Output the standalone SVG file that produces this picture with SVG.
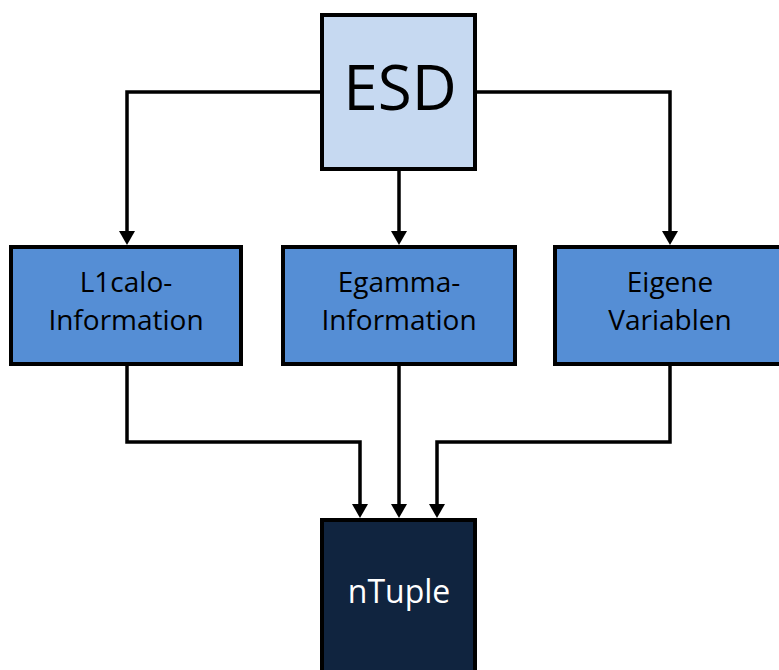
<svg xmlns="http://www.w3.org/2000/svg" width="779" height="670" viewBox="0 0 779 670">
  <defs>
    <style>
      .box { stroke: #000; stroke-width: 4; }
      .esd { fill: #C6D9F1; }
      .mid { fill: #558ED5; }
      .out { fill: #10243F; }
      .lbl { font-family: "Open Sans", "Noto Sans", "DejaVu Sans", sans-serif; font-size: 28px; text-anchor: middle; fill: #000; }
      .conn { fill: none; stroke: #000; stroke-width: 3.5; stroke-linejoin: miter; }
    </style>
    <marker id="arrow" viewBox="0 0 14 16" refX="0" refY="8" markerWidth="14" markerHeight="16" markerUnits="userSpaceOnUse" orient="auto">
      <path d="M0,0 L14,8 L0,16 Z" fill="#000"/>
    </marker>
  </defs>
  <rect x="0" y="0" width="779" height="670" fill="#fff"/>

  <g id="connectors">
    <path class="conn" d="M320,92 H127 V231" marker-end="url(#arrow)"/>
    <path class="conn" d="M399,171 V231" marker-end="url(#arrow)"/>
    <path class="conn" d="M477,92 H670 V231" marker-end="url(#arrow)"/>
    <path class="conn" d="M127,366 V442 H360 V504" marker-end="url(#arrow)"/>
    <path class="conn" d="M399,366 V504" marker-end="url(#arrow)"/>
    <path class="conn" d="M670,366 V442 H437 V504" marker-end="url(#arrow)"/>
  </g>

  <g id="esd">
    <rect class="box esd" x="322" y="15" width="153" height="154"/>
    <text class="lbl" x="400" y="110" style="font-size:62px">ESD</text>
  </g>

  <g id="l1calo">
    <rect class="box mid" x="11" y="247" width="230" height="117"/>
    <text class="lbl" x="126" y="292">L1calo-</text>
    <text class="lbl" x="126" y="330">Information</text>
  </g>

  <g id="egamma">
    <rect class="box mid" x="283" y="247" width="232" height="117"/>
    <text class="lbl" x="399" y="292">Egamma-</text>
    <text class="lbl" x="399" y="330">Information</text>
  </g>

  <g id="eigene">
    <rect class="box mid" x="555" y="247" width="230" height="117"/>
    <text class="lbl" x="670" y="292">Eigene</text>
    <text class="lbl" x="670" y="330">Variablen</text>
  </g>

  <g id="ntuple">
    <rect class="box out" x="322" y="520" width="153" height="160"/>
    <text class="lbl" x="399" y="603" style="fill:#fff;font-size:32px">nTuple</text>
  </g>
</svg>
